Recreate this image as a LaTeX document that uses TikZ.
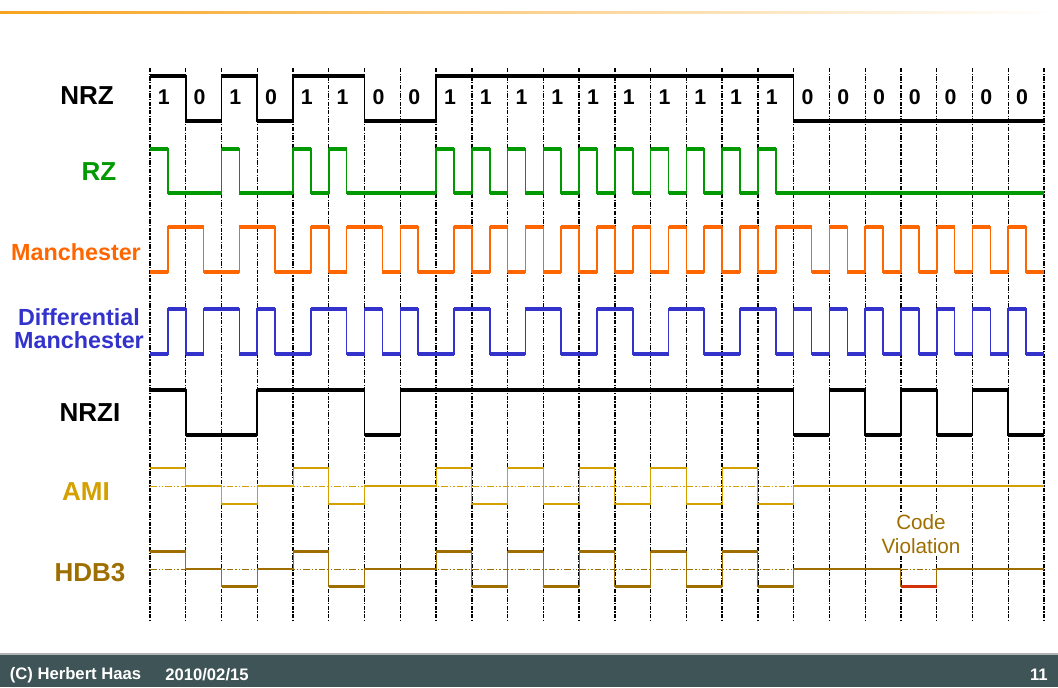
\documentclass[tikz,border=0pt]{standalone}
\usepackage{fontspec}
\setmainfont{Liberation Sans}
\usepackage{xcolor}
\usepackage{tikz}
\definecolor{rzgreen}{RGB}{0,153,0}
\definecolor{manorange}{RGB}{255,102,0}
\definecolor{dmblue}{RGB}{51,51,204}
\definecolor{amigold}{RGB}{212,160,0}
\definecolor{hdbbrown}{RGB}{158,110,0}
\definecolor{violred}{RGB}{210,50,10}
\definecolor{footslate}{RGB}{62,84,86}
\definecolor{topline}{RGB}{247,163,30}
\newcommand{\bitseq}{1,0,1,0,1,1,0,0,1,1,1,1,1,1,1,1,1,1,0,0,0,0,0,0,0}
\newcommand{\dmseq}{0,0,1,1,0,1,1,1,0,1,0,1,0,1,0,1,0,1,1,1,1,1,1,1,1}
\newcommand{\nrziseq}{1,0,0,1,1,1,0,1,1,1,1,1,1,1,1,1,1,1,0,1,0,1,0,1,0}
\newcommand{\amiseq}{1,0,-1,0,1,-1,0,0,1,-1,1,-1,1,-1,1,-1,1,-1,0,0,0,0,0,0,0}
\newcommand{\hdbseq}{1,0,-1,0,1,-1,0,0,1,-1,1,-1,1,-1,1,-1,1,-1,0,0,0,-1,0,0,0}

\begin{document}
\begin{tikzpicture}[x=0.75pt, y=-0.75pt,
  lbl/.style={inner sep=0pt, font=\fontsize{19.5}{20}\selectfont\bfseries},
  manlbl/.style={inner sep=0pt, align=center, font=\fontsize{17.5}{17.1}\selectfont\bfseries},
  bitlbl/.style={inner sep=0pt, font=\fontsize{16}{16}\selectfont\bfseries},
  gridln/.style={line width=1pt, dash pattern=on 3.3pt off 1pt on 1pt off 1pt},
  zeroln/.style={line width=0.6pt, dash pattern=on 5pt off 1.5pt on 1pt off 1.5pt on 1pt off 1.5pt},
  sig/.style={line width=1.2pt},
  hsig/.style={line width=2.5pt},
  foot/.style={inner sep=0pt, text=white, font=\fontsize{12.5}{13}\selectfont\bfseries}]
\useasboundingbox (0,0) rectangle (1058,687);
\shade[left color=topline, right color=white] (0,11.3) rectangle (1058,13);

% bit grid
\foreach \k in {0,...,25}
  \draw[gridln] ({150+\k*35.76},68) -- ({150+\k*35.76},622);

% labels
\node[lbl] (nrz) at (87,96) {NRZ};
\node[lbl, text=rzgreen] (rz) at (99,172) {RZ};
\node[manlbl, text=manorange] (man) at (76,252) {Manchester};
\node[manlbl, text=dmblue] (dman) at (79,329) {Differential\\Manchester};
\node[lbl] (nrzi) at (90,413) {NRZI};
\node[lbl, text=amigold] (ami) at (86,492) {AMI};
\node[lbl, text=hdbbrown] (hdb) at (90,573) {HDB3};

\foreach \b [count=\i from 0] in \bitseq
  \node[bitlbl] (bit\i) at ({150+(\i+0.5)*35.76-4},97) {\b};

% NRZ
\draw[sig] (150,76) \foreach \b [count=\i from 0] in \bitseq
  { -- ({150+\i*35.76},{121-45*\b}) -- ({150+(\i+1)*35.76},{121-45*\b}) };
\draw[hsig] \foreach \b [count=\i from 0] in \bitseq
  { ({150+\i*35.76},{121-45*\b}) -- ({150+(\i+1)*35.76},{121-45*\b}) };
% RZ
\draw[sig, rzgreen] (150,149) \foreach \b [count=\i from 0] in \bitseq
  { -- ({150+\i*35.76},{193-44*\b}) -- ({150+(\i+0.5)*35.76},{193-44*\b})
    -- ({150+(\i+0.5)*35.76},193) -- ({150+(\i+1)*35.76},193) };
\draw[hsig, rzgreen] \foreach \b [count=\i from 0] in \bitseq
  { ({150+\i*35.76},{193-44*\b}) -- ({150+(\i+0.5)*35.76},{193-44*\b})
    ({150+(\i+0.5)*35.76},193) -- ({150+(\i+1)*35.76},193) };
% Manchester
\draw[sig, manorange] (150,272) \foreach \b [count=\i from 0] in \bitseq
  { -- ({150+\i*35.76},{272-45*(1-\b)}) -- ({150+(\i+0.5)*35.76},{272-45*(1-\b)})
    -- ({150+(\i+0.5)*35.76},{272-45*\b}) -- ({150+(\i+1)*35.76},{272-45*\b}) };
\draw[hsig, manorange] \foreach \b [count=\i from 0] in \bitseq
  { ({150+\i*35.76},{272-45*(1-\b)}) -- ({150+(\i+0.5)*35.76},{272-45*(1-\b)})
    ({150+(\i+0.5)*35.76},{272-45*\b}) -- ({150+(\i+1)*35.76},{272-45*\b}) };
% differential Manchester
\draw[sig, dmblue] (150,354) \foreach \f [count=\i from 0] in \dmseq
  { -- ({150+\i*35.76},{354-45*\f}) -- ({150+(\i+0.5)*35.76},{354-45*\f})
    -- ({150+(\i+0.5)*35.76},{354-45*(1-\f)}) -- ({150+(\i+1)*35.76},{354-45*(1-\f)}) };
\draw[hsig, dmblue] \foreach \f [count=\i from 0] in \dmseq
  { ({150+\i*35.76},{354-45*\f}) -- ({150+(\i+0.5)*35.76},{354-45*\f})
    ({150+(\i+0.5)*35.76},{354-45*(1-\f)}) -- ({150+(\i+1)*35.76},{354-45*(1-\f)}) };
% NRZI
\draw[sig] (150,390) \foreach \v [count=\i from 0] in \nrziseq
  { -- ({150+\i*35.76},{435-45*\v}) -- ({150+(\i+1)*35.76},{435-45*\v}) };
\draw[hsig] \foreach \v [count=\i from 0] in \nrziseq
  { ({150+\i*35.76},{435-45*\v}) -- ({150+(\i+1)*35.76},{435-45*\v}) };
% AMI
\draw[zeroln, amigold] (150,486) -- (1044,486);
\draw[sig, line width=0.8pt, amigold] (150,468) \foreach \v [count=\i from 0] in \amiseq
  { -- ({150+\i*35.76},{486-18*(\v)}) -- ({150+(\i+1)*35.76},{486-18*(\v)}) };
\draw[hsig, line width=2.2pt, amigold] \foreach \v [count=\i from 0] in \amiseq
  { ({150+\i*35.76},{486-18*(\v)}) -- ({150+(\i+1)*35.76},{486-18*(\v)}) };
% HDB3
\node[fill=white, inner sep=2pt, align=center, text=hdbbrown,
  font=\fontsize{15.5}{18}\selectfont] (viol) at (921,534) {Code\\Violation};
\draw[zeroln, hdbbrown] (150,569) -- (1044,569);
\draw[sig, line width=0.8pt, hdbbrown] (150,551) \foreach \v [count=\i from 0] in \hdbseq
  { -- ({150+\i*35.76},{569-17.5*(\v)}) -- ({150+(\i+1)*35.76},{569-17.5*(\v)}) };
\draw[hsig, line width=2.2pt, hdbbrown] \foreach \v [count=\i from 0] in \hdbseq
  { ({150+\i*35.76},{569-17.5*(\v)}) -- ({150+(\i+1)*35.76},{569-17.5*(\v)}) };
\draw[hsig, line width=2.2pt, violred] ({150+21*35.76},586.5) -- ({150+22*35.76},586.5);

% footer
\fill[footslate] (0,654) rectangle (1058,687);
\draw[gray!60, line width=0.8pt] (0,654) -- (1058,654);
\node[foot, anchor=west] (copy) at (9.5,675) {(C) Herbert Haas};
\node[foot, anchor=west] (date) at (165,675) {2010/02/15};
\node[foot, anchor=east] (page) at (1048,675) {11};
\end{tikzpicture}
\end{document}
